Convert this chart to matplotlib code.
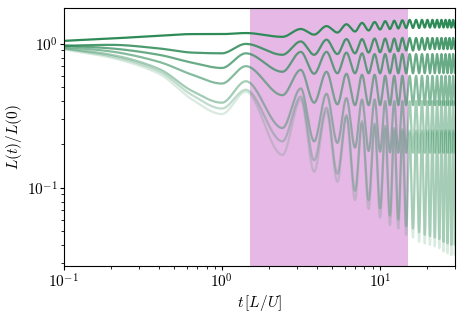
import numpy as np
import matplotlib
matplotlib.use("Agg")
import matplotlib.pyplot as plt
from matplotlib.ticker import FuncFormatter, NullFormatter

plt.rcParams['mathtext.fontset'] = 'cm'
plt.rcParams['font.family'] = 'DejaVu Serif'

# ---------------- data ----------------
t_early = [0.1, 0.2, 0.4, 0.65]
t_trough = [1.0, 2.42, 3.84, 5.39, 6.97, 8.5, 10.05, 11.6, 13.1, 14.7,
            16.22, 17.74, 19.26, 20.78, 22.3, 23.82, 25.34, 26.86, 28.38, 29.9]
t_peak = [1.42, 3.16, 4.6, 6.15, 7.72, 9.28, 10.82, 12.35, 13.9, 15.46,
          16.98, 18.5, 20.02, 21.54, 23.06, 24.58, 26.1, 27.62, 29.14, 30.66]

c1_early = [1.05, 1.09, 1.14, 1.17]
c1_trough = [1.17, 1.12, 1.16, 1.20, 1.22, 1.24, 1.26, 1.27, 1.28, 1.29,
             1.29, 1.29, 1.30, 1.30, 1.30, 1.30, 1.30, 1.30, 1.30, 1.30]
c1_peak = [1.19, 1.27, 1.33, 1.37, 1.40, 1.42, 1.44, 1.45, 1.46, 1.47,
           1.47, 1.47, 1.47, 1.47, 1.47, 1.47, 1.47, 1.47, 1.47, 1.47]

c2_early = [0.97, 0.985, 0.93, 0.87]
c2_trough = [0.86, 0.84, 0.84, 0.85, 0.86, 0.87, 0.875, 0.88, 0.89, 0.90,
             0.90, 0.91, 0.91, 0.92, 0.92, 0.92, 0.92, 0.92, 0.92, 0.92]
c2_peak = [1.00, 1.04, 1.07, 1.08, 1.08, 1.09, 1.09, 1.09, 1.10, 1.10,
           1.10, 1.10, 1.10, 1.10, 1.10, 1.10, 1.10, 1.10, 1.10, 1.10]

c3_early = [0.975, 0.93, 0.84, 0.74]
c3_trough = [0.68, 0.64, 0.62, 0.625, 0.625, 0.625, 0.625, 0.625, 0.625, 0.625,
             0.625, 0.625, 0.625, 0.625, 0.625, 0.625, 0.625, 0.625, 0.625, 0.625]
c3_peak = [0.86, 0.88, 0.88, 0.87, 0.86, 0.85, 0.85, 0.85, 0.85, 0.85,
           0.85, 0.85, 0.85, 0.85, 0.85, 0.85, 0.85, 0.85, 0.85, 0.85]

c4_early = [0.955, 0.885, 0.75, 0.61]
c4_trough = [0.53, 0.44, 0.39, 0.38, 0.375, 0.375, 0.375, 0.375, 0.375, 0.375,
             0.375, 0.375, 0.375, 0.375, 0.375, 0.375, 0.375, 0.375, 0.375, 0.375]
c4_peak = [0.70, 0.66, 0.64, 0.62, 0.61, 0.61, 0.60, 0.60, 0.60, 0.60,
           0.60, 0.60, 0.60, 0.60, 0.60, 0.60, 0.60, 0.60, 0.60, 0.60]

c5_early = [0.935, 0.84, 0.67, 0.47]
c5_trough = [0.39, 0.26, 0.21, 0.205, 0.19, 0.18, 0.178, 0.176, 0.175, 0.175,
             0.175, 0.175, 0.175, 0.175, 0.175, 0.175, 0.175, 0.175, 0.175, 0.175]
c5_peak = [0.55, 0.49, 0.45, 0.42, 0.41, 0.41, 0.40, 0.40, 0.40, 0.40,
           0.40, 0.40, 0.40, 0.40, 0.40, 0.40, 0.40, 0.40, 0.40, 0.40]

c6_early = [0.925, 0.82, 0.645, 0.44]
c6_trough = [0.355, 0.21, 0.155, 0.125, 0.095, 0.082, 0.072, 0.064, 0.060, 0.054,
             0.052, 0.049, 0.047, 0.046, 0.045, 0.044, 0.042, 0.041, 0.040, 0.040]
c6_peak = [0.48, 0.43, 0.36, 0.32, 0.29, 0.28, 0.27, 0.26, 0.255, 0.25,
           0.25, 0.25, 0.25, 0.25, 0.25, 0.25, 0.25, 0.25, 0.25, 0.25]

c7_early = [0.915, 0.80, 0.62, 0.41]
c7_trough = [0.325, 0.169, 0.129, 0.11, 0.082, 0.071, 0.062, 0.055, 0.052, 0.047,
             0.045, 0.042, 0.041, 0.040, 0.039, 0.038, 0.036, 0.035, 0.034, 0.034]
c7_peak = [0.465, 0.41, 0.34, 0.31, 0.28, 0.27, 0.26, 0.25, 0.245, 0.24,
           0.24, 0.24, 0.24, 0.24, 0.24, 0.24, 0.24, 0.24, 0.24, 0.24]

curves = [
    (c1_early, c1_trough, c1_peak),
    (c2_early, c2_trough, c2_peak),
    (c3_early, c3_trough, c3_peak),
    (c4_early, c4_trough, c4_peak),
    (c5_early, c5_trough, c5_peak),
    (c6_early, c6_trough, c6_peak),
    (c7_early, c7_trough, c7_peak),
]
alphas = [1.0, 0.86, 0.72, 0.58, 0.44, 0.30, 0.18]
span = (1.5, 15.0)


def merge(early, trough, peak):
    vals = list(early)
    for a, b in zip(trough, peak):
        vals += [a, b]
    return vals


def pchip(x, y, xq):
    x = np.asarray(x, float)
    y = np.asarray(y, float)
    h = np.diff(x)
    d = np.diff(y) / h
    m = np.zeros_like(y)
    for k in range(1, len(y) - 1):
        if d[k - 1] * d[k] > 0:
            w1 = 2 * h[k] + h[k - 1]
            w2 = h[k] + 2 * h[k - 1]
            m[k] = (w1 + w2) / (w1 / d[k - 1] + w2 / d[k])
    m[0] = d[0]
    m[-1] = 0.0
    i = np.clip(np.searchsorted(x, xq) - 1, 0, len(x) - 2)
    s = (xq - x[i]) / h[i]
    h00 = 2 * s**3 - 3 * s**2 + 1
    h10 = s**3 - 2 * s**2 + s
    h01 = -2 * s**3 + 3 * s**2
    h11 = s**3 - s**2
    return h00 * y[i] + h10 * h[i] * m[i] + h01 * y[i + 1] + h11 * h[i] * m[i + 1]


t_knots = merge(t_early, t_trough, t_peak)
tq = np.logspace(-1, np.log10(30.5), 5000)

fig = plt.figure(figsize=(4.63, 3.16), dpi=100)
ax = fig.add_axes([0.138, 0.158, 0.845, 0.817])

ax.axvspan(span[0], span[1], color='plum', alpha=0.75, lw=0, zorder=0)

color = '#2e8b57'
for (e, tr, pk), a in list(zip(curves, alphas))[::-1]:
    v = merge(e, tr, pk)
    yq = 10 ** pchip(np.log10(t_knots), np.log10(v), np.log10(tq))
    ax.plot(tq, yq, color=color, alpha=a, lw=1.6, zorder=2)

ax.set_xscale('log')
ax.set_yscale('log')
ax.set_xlim(0.1, 30)
ax.set_ylim(0.0285, 1.78)

fmt = FuncFormatter(lambda v, p: r'$10^{%d}$' % int(round(np.log10(v))))
ax.xaxis.set_major_formatter(fmt)
ax.yaxis.set_major_formatter(fmt)
ax.xaxis.set_minor_formatter(NullFormatter())
ax.yaxis.set_minor_formatter(NullFormatter())
ax.tick_params(which='major', labelsize=11, length=3.0, pad=1.5)
ax.tick_params(which='minor', length=2.0)

ax.set_xlabel(r'$t\,[L/U]$', fontsize=11, labelpad=2)
ax.set_ylabel(r'$L(t)/L(0)$', fontsize=11, labelpad=2)

fig.savefig('out.png', dpi=100)
